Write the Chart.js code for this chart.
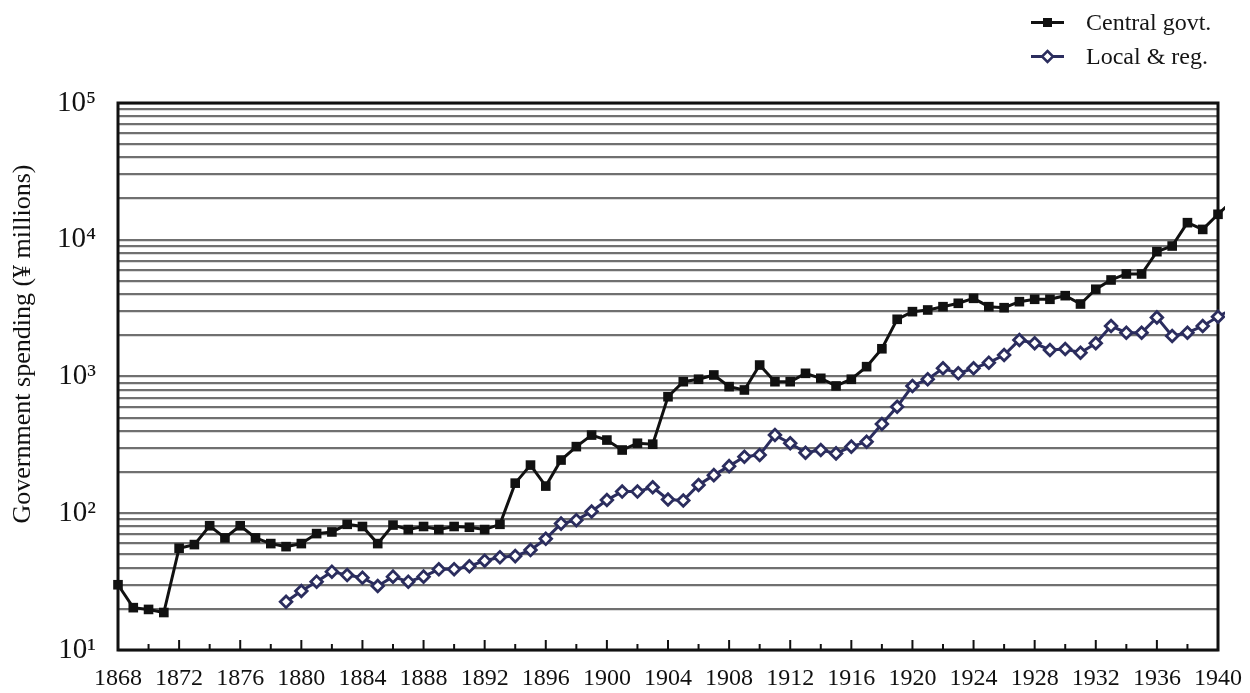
<!DOCTYPE html>
<html lang="en">
  <head>
    <meta charset="UTF-8" />
    <title>Government spending</title>
    <style>
      body { margin: 0; background: #fff; }
      .wrap { position: relative; width: 1250px; height: 693px; }
      #legend {
        position: absolute; left: 1028px; top: 5px;
        font-family: "Liberation Serif", serif; font-size: 24px; color: #151515;
      }
      #legend .row { display: flex; align-items: center; height: 34px; }
      #legend svg { margin-right: 22px; }
    </style>
  </head>
  <body>
    <div class="wrap">
      <canvas id="myChart" width="1250" height="693"></canvas>
      <div id="legend"></div>
    </div>
    <script src="https://cdn.jsdelivr.net/npm/chart.js@4.4.0/dist/chart.umd.min.js"></script>
    <script>
      // years 1868..1941 (1941 only shows as the stub past the right edge)
      const years = [];
      for (let y = 1868; y <= 1941; y++) years.push(y);

      const central = [
        30, 20.4, 19.8, 18.8, 55.5, 59, 81, 66, 81, 66,
        60, 57, 60, 71, 73, 83, 80, 60, 82, 76,
        80, 76, 80, 79, 76, 83, 166, 225, 158, 245,
        307, 373, 343, 290, 325, 320, 711, 916, 955, 1026,
        843, 797, 1213, 916, 916, 1055, 970, 853, 955, 1180,
        1595, 2620, 2980, 3065, 3240, 3430, 3730, 3240, 3185, 3525,
        3670, 3670, 3900, 3390, 4345, 5080, 5620, 5620, 8180, 9000,
        13330, 11900, 15350, 19500,
      ];
      const local = [
        null, null, null, null, null, null, null, null, null, null,
        null, 22.5, 27, 31.6, 37.4, 35.3, 33.8, 29.4, 34.4, 31.6,
        34.4, 38.9, 39, 41, 45, 47.6, 48.6, 53.8, 65, 84,
        89, 103, 125, 144, 144, 155, 126, 124, 161, 190,
        221, 259, 267, 373, 325, 277, 290, 274, 307, 333,
        450, 601, 853, 955, 1148, 1055, 1148, 1262, 1436, 1849,
        1750, 1563, 1590, 1493, 1750, 2340, 2090, 2090, 2705, 1977,
        2090, 2340, 2735, 3150,
      ];

      const xMin = 1868;
      const xMax = 1940;
      const xLabels = [1868, 1872, 1876, 1880, 1884, 1888, 1892, 1896, 1900, 1904,
        1908, 1912, 1916, 1920, 1924, 1928, 1932, 1936, 1940];
      const xMinorTicks = [];
      for (let y = xMin; y <= xMax; y += 2) xMinorTicks.push(y);

      const yTicks = [];
      for (let e = 1; e < 5; e++) {
        for (let m = 1; m < 10; m++) yTicks.push(m * Math.pow(10, e));
      }
      yTicks.push(100000);
      const sup = { 1: "\u00b9", 2: "\u00b2", 3: "\u00b3", 4: "\u2074", 5: "\u2075" };

      const seriesNames = ["Central govt.", "Local & reg."];
      const lineColors = ["#111111", "#2b2d5e"];
      const yTitle = "Government spending (\u00a5 millions)";

      const serif = "'Liberation Serif', 'Times New Roman', serif";

      // box round the plot, the little year ticks along the bottom, and the y title
      const frame = {
        id: "frame",
        beforeDatasetsDraw(chart) {
          const { ctx, chartArea: a, scales } = chart;
          ctx.save();
          ctx.strokeStyle = "#111";
          ctx.lineWidth = 2;
          xMinorTicks.forEach((yr) => {
            const px = scales.x.getPixelForValue(yr);
            const len = (yr - xMin) % 4 === 0 ? 10 : 6;
            ctx.beginPath();
            ctx.moveTo(px, a.bottom);
            ctx.lineTo(px, a.bottom - len);
            ctx.stroke();
          });
          ctx.lineWidth = 3;
          ctx.strokeRect(a.left, a.top, a.right - a.left, a.bottom - a.top);

          // y title, sits a bit above the middle of the plot like the original
          ctx.translate(23, 344);
          ctx.rotate(-Math.PI / 2);
          ctx.fillStyle = "#111";
          ctx.font = "26px " + serif;
          ctx.textAlign = "center";
          ctx.textBaseline = "middle";
          ctx.fillText(yTitle, 0, 0);
          ctx.restore();
        },
      };

      const pts = (vals) =>
        years.map((yr, i) => ({ x: yr, y: vals[i] }));

      const myChart = new Chart(document.getElementById("myChart"), {
        type: "line",
        data: {
          datasets: [
            {
              label: seriesNames[0],
              data: pts(central),
              borderColor: lineColors[0],
              backgroundColor: lineColors[0],
              borderWidth: 3,
              pointStyle: "rect",
              pointRadius: (c) => (c.raw && c.raw.x > xMax ? 0 : 6.8),
              pointBorderWidth: 0,
              clip: { left: 10, top: 5, right: 7, bottom: 5 },
            },
            {
              label: seriesNames[1],
              data: pts(local),
              borderColor: lineColors[1],
              backgroundColor: "#ffffff",
              pointBorderColor: lineColors[1],
              borderWidth: 3,
              pointStyle: "rectRot",
              pointRadius: (c) => (c.raw && c.raw.x > xMax ? 0 : 5.8),
              pointBorderWidth: 2.8,
              spanGaps: false,
              clip: { left: 10, top: 5, right: 7, bottom: 5 },
            },
          ],
        },
        options: {
          responsive: false,
          animation: false,
          layout: { padding: { top: 103, right: 32, left: 0, bottom: 0 } },
          plugins: {
            legend: { display: false },
            tooltip: { enabled: false },
          },
          scales: {
            x: {
              type: "linear",
              bounds: "data",
              // range set here (not min/max) so the 1941 stub still gets drawn
              afterDataLimits: (axis) => {
                axis.min = xMin;
                axis.max = xMax;
              },
              afterFit: (axis) => {
                axis.height = 43;
                axis.paddingLeft = 0;
                axis.paddingRight = 0;
              },
              afterBuildTicks: (axis) => {
                axis.ticks = xLabels.map((v) => ({ value: v }));
              },
              grid: { display: false, drawTicks: false },
              border: { display: false },
              ticks: {
                autoSkip: false,
                maxRotation: 0,
                padding: 14,
                color: "#111",
                font: { family: serif, size: 24 },
                callback: (v) => String(v),
              },
            },
            y: {
              type: "logarithmic",
              min: 10,
              max: 100000,
              afterFit: (axis) => {
                axis.width = 118;
                axis.paddingTop = 0;
                axis.paddingBottom = 0;
              },
              afterBuildTicks: (axis) => {
                axis.ticks = yTicks.map((v) => ({ value: v }));
              },
              grid: { color: "#707070", lineWidth: 2.2, drawTicks: false },
              border: { display: false },
              ticks: {
                autoSkip: false,
                padding: 22,
                color: "#111",
                font: { family: serif, size: 29 },
                callback: (v) => {
                  const e = Math.log10(v);
                  return Math.abs(e - Math.round(e)) < 1e-9 ? "10" + sup[Math.round(e)] : "";
                },
              },
            },
          },
        },
        plugins: [frame],
      });

      // legend: line with marker, then the name
      const legend = document.getElementById("legend");
      const markers = [
        '<rect x="15" y="7" width="9" height="9" fill="' + lineColors[0] + '"/>',
        '<polygon points="19.5,6 25,11.5 19.5,17 14,11.5" fill="#fff" stroke="' + lineColors[1] + '" stroke-width="2.5"/>',
      ];
      seriesNames.forEach((name, i) => {
        const row = document.createElement("div");
        row.className = "row";
        row.innerHTML =
          '<svg width="36" height="23"><line x1="3" y1="11.5" x2="36" y2="11.5" stroke="' +
          lineColors[i] + '" stroke-width="3"/>' + markers[i] + "</svg><span>" + name + "</span>";
        legend.appendChild(row);
      });
    </script>
  </body>
</html>
